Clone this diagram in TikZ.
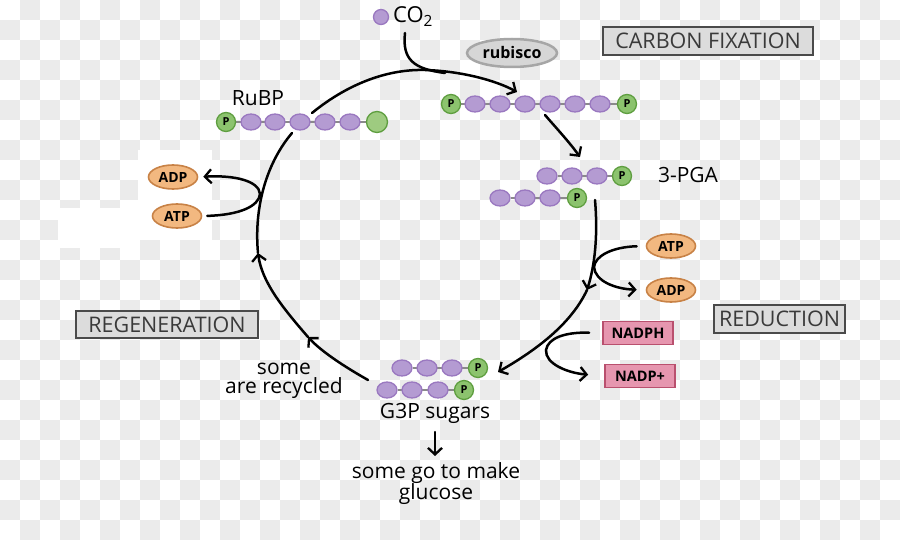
\documentclass[tikz,border=0pt]{standalone}
\usepackage{fontspec}
\setmainfont{Open Sans}
\usetikzlibrary{arrows.meta,shapes.geometric}
\definecolor{chk}{HTML}{EBEBEB}
\definecolor{purpF}{HTML}{B49BD2}
\definecolor{purpD}{HTML}{9A78C0}
\definecolor{greenF}{HTML}{8CC36E}
\definecolor{greenD}{HTML}{5E9E3F}
\definecolor{greenE}{HTML}{9ECB80}
\definecolor{orF}{HTML}{F2B880}
\definecolor{orD}{HTML}{C88246}
\definecolor{pkF}{HTML}{E696AF}
\definecolor{pkD}{HTML}{B9506E}
\definecolor{boxF}{HTML}{DCDCDC}
\definecolor{boxD}{HTML}{4A4A4A}
\definecolor{boxT}{HTML}{3A3A3A}
\definecolor{rubF}{HTML}{D6D6D6}
\definecolor{rubD}{HTML}{A6A6A6}
\definecolor{bondC}{HTML}{8A8A8A}
\newcommand\myfs[1]{\fontsize{#1}{#1}\selectfont}
\pgfdeclarelayer{checker}
\pgfdeclarelayer{bonds}
\pgfsetlayers{checker,bonds,main}
\tikzset{
  cyc/.style={line width=2.5pt, black, line cap=round},
  arr/.style={cyc, -{Straight Barb[length=6.5pt,width=14pt,line width=2.3pt]}},
  oval/.style={ellipse, draw=purpD, fill=purpF, line width=1.3pt, minimum width=20pt, minimum height=16pt, inner sep=0pt},
  phos/.style={circle, draw=greenD, fill=greenF, line width=1.3pt, minimum size=19pt, inner sep=0pt, font=\bfseries\myfs{11}},
  bond/.style={draw=bondC, line width=1.8pt},
  lab/.style={draw=boxD, fill=boxF, line width=2.5pt, inner sep=0pt, text=boxT, font=\myfs{21.5}},
  energy/.style={ellipse, draw=orD, fill=orF, line width=1.6pt, minimum width=49pt, minimum height=24pt, inner sep=0pt, font=\bfseries\myfs{14}},
  nadp/.style={rectangle, draw=pkD, fill=pkF, line width=1.8pt, minimum width=70pt, minimum height=23pt, inner sep=0pt, font=\bfseries\myfs{14.5}},
  txt/.style={inner sep=0pt, font=\myfs{21}},
}
\begin{document}
\begin{tikzpicture}[x=1pt,y=-1pt]
\useasboundingbox (0,0) rectangle (900,540);
% background checkerboard
\begin{pgfonlayer}{checker}
\fill[white] (0,0) rectangle (900,540);
\foreach \j in {0,2,...,26} { \foreach \i in {1,3,...,43} { \fill[chk] (\i*20,\j*20) rectangle ++(20,20); } }
\foreach \j in {1,3,...,25} { \foreach \i in {0,2,...,44} { \fill[chk] (\i*20,\j*20) rectangle ++(20,20); } }
\fill[white] (58,208) rectangle (138,248);
\fill[white] (138,150) rectangle (212,240);
\end{pgfonlayer}

% CO2
\node[circle, draw=purpD, fill=purpF, line width=1.3pt, minimum size=15pt, inner sep=0pt] (co2dot) at (381,17) {};
\node[txt, font=\myfs{22}] (co2) at (413,17) {CO\textsubscript{2}};

% boxed stage labels
\node[lab, minimum width=210pt, minimum height=28pt] (cf) at (708,41) {CARBON FIXATION};
\node[lab, minimum width=131pt, minimum height=28pt] (red) at (779.5,319) {REDUCTION};
\node[lab, minimum width=182pt, minimum height=27pt] (reg) at (167,324.5) {REGENERATION};

% rubisco
\node[ellipse, draw=rubD, fill=rubF, line width=2.5pt, minimum width=90pt, minimum height=28pt, inner sep=0pt, font=\bfseries\myfs{16}] (rub) at (512,53) {rubisco};

% RuBP molecule
\node[phos] (rp) at (226,122) {P};
\foreach \xx [count=\k] in {251,275,300,325,350} { \node[oval] (r\k) at (\xx,122) {}; }
\node[circle, draw=greenD, fill=greenE, line width=1.3pt, minimum size=21pt, inner sep=0pt] (rend) at (377,122) {};
\begin{pgfonlayer}{bonds}\draw[bond] (rp) -- (rend);\end{pgfonlayer}
\node[txt] (rubp) at (258,98) {RuBP};

% 6-carbon intermediate
\node[phos] (sp1) at (451,104) {P};
\foreach \xx [count=\k] in {475,500,525,550,575,600} { \node[oval] (s\k) at (\xx,104) {}; }
\node[phos] (sp2) at (627,104) {P};
\begin{pgfonlayer}{bonds}\draw[bond] (sp1) -- (sp2);\end{pgfonlayer}

% 3-PGA
\foreach \xx [count=\k] in {547,572,597} { \node[oval] (pa\k) at (\xx,176) {}; }
\node[phos] (pap) at (622,176) {P};
\foreach \xx [count=\k] in {500,525,550} { \node[oval] (pb\k) at (\xx,198) {}; }
\node[phos] (pbp) at (577,198) {P};
\begin{pgfonlayer}{bonds}\draw[bond] (pa1) -- (pap); \draw[bond] (pb1) -- (pbp);\end{pgfonlayer}
\node[txt] (pga) at (688,175) {3-PGA};

% G3P
\foreach \xx [count=\k] in {402,427,452} { \node[oval] (ga\k) at (\xx,368) {}; }
\node[phos] (gap) at (478,368) {P};
\foreach \xx [count=\k] in {387,412,438} { \node[oval] (gb\k) at (\xx,390) {}; }
\node[phos] (gbp) at (464,390) {P};
\begin{pgfonlayer}{bonds}\draw[bond] (ga1) -- (gap); \draw[bond] (gb1) -- (gbp);\end{pgfonlayer}
\node[txt] (g3p) at (435,413) {G3P sugars};
\node[txt, align=center, font=\fontsize{21}{21}\selectfont] (glc) at (436,484) {some go to make\\glucose};
\node[txt, align=center, font=\fontsize{21}{19}\selectfont] (rec) at (284,381) {some\\are recycled};

% energy carriers
\node[energy] (atpR) at (671,246) {ATP};
\node[energy] (adpR) at (671,290) {ADP};
\node[energy] (adpL) at (173,177) {ADP};
\node[energy] (atpL) at (177,216) {ATP};
\node[nadp] (nadph) at (638,333) {NADPH};
\node[nadp] (nadpp) at (640,376) {NADP+};

% cycle coordinates
\coordinate (a0) at (312,113);
\coordinate (a1) at (517,92);
\coordinate (co2s) at (405,33);
\coordinate (b0) at (545,115);
\coordinate (b1) at (580,157);
\coordinate (c0) at (595,200);
\coordinate (c1) at (587,290);
\coordinate (c2) at (498,372);
\coordinate (d0) at (368,380);
\coordinate (d1) at (308,337);
\coordinate (d2) at (258,253);
\coordinate (d3) at (292,133);
\coordinate (gl0) at (435,432);
\coordinate (gl1) at (435,456);

% main cycle
\draw[arr] (a0) .. controls (350,82) and (390,69) .. (425,70) .. controls (460,71) and (495,80) .. (a1);
\draw[cyc] (co2s) .. controls (402,60) and (414,69) .. (445,73);
\draw[arr] (b0) .. controls (558,130) and (570,143) .. (b1);
\draw[arr] (c0) .. controls (598,235) and (595,265) .. (c1);
\draw[arr] (c1) .. controls (572,322) and (540,348) .. (c2);
\draw[arr] (d0) .. controls (345,367) and (322,352) .. (d1);
\draw[arr] (d1) .. controls (282,307) and (262,282) .. (d2);
\draw[cyc] (d2) .. controls (254,210) and (265,165) .. (d3);

% side reactions
\draw[arr, shorten <=9pt, shorten >=9pt] (atpR.west) .. controls (612,247) and (595,256) .. (594,267) .. controls (595,281) and (615,289) .. (adpR.west);
\draw[arr, shorten <=13pt, shorten >=16pt] (nadph.west) .. controls (565,332) and (548,338) .. (546,350) .. controls (545,364) and (568,373) .. (nadpp.west);
\draw[arr, shorten <=5pt, shorten >=5pt] (atpL.east) .. controls (240,215) and (259,206) .. (260,194) .. controls (259,181) and (235,175) .. (adpL.east);
\draw[arr] (gl0) -- (gl1);
\end{tikzpicture}
\end{document}
